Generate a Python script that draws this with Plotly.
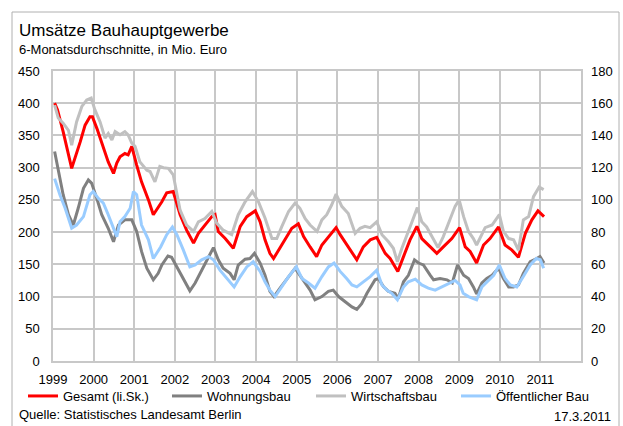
import plotly.graph_objects as go

# Time axis in decimal years, values in Mio. Euro (6-month averages)
gesamt_t = [1999.04, 1999.11, 1999.25, 1999.46, 1999.67, 1999.79, 1999.91, 1999.97,
            2000.08, 2000.24, 2000.36, 2000.49, 2000.57, 2000.65, 2000.77, 2000.85, 2000.94,
            2001.06, 2001.18, 2001.35, 2001.47, 2001.68, 2001.80, 2001.96,
            2002.13, 2002.29, 2002.46, 2002.58, 2002.74, 2002.91, 2002.99,
            2003.07, 2003.24, 2003.44, 2003.61, 2003.77, 2003.98,
            2004.10, 2004.22, 2004.34, 2004.43, 2004.55, 2004.71, 2004.88,
            2005.04, 2005.17, 2005.33, 2005.49, 2005.62, 2005.78, 2005.97,
            2006.07, 2006.27, 2006.48, 2006.64, 2006.81, 2006.97,
            2007.05, 2007.18, 2007.30, 2007.49, 2007.63, 2007.79, 2007.96,
            2008.08, 2008.29, 2008.45, 2008.61, 2008.82,
            2009.01, 2009.15, 2009.27, 2009.43, 2009.60, 2009.76, 2009.97,
            2010.13, 2010.30, 2010.46, 2010.63, 2010.79, 2010.94, 2011.09]
gesamt = [400, 390, 356, 299, 340, 366, 379, 379,
          361, 330, 309, 291, 307, 317, 322, 320, 333,
          304, 278, 250, 227, 247, 261, 263,
          227, 203, 183, 198, 211, 224, 227,
          201, 190, 175, 209, 224, 233,
          216, 188, 167, 159, 172, 188, 206,
          213, 193, 177, 162, 180, 192, 207,
          196, 177, 157, 177, 188, 192,
          183, 167, 159, 139, 162, 188, 209,
          190, 177, 167, 177, 190,
          207, 177, 170, 152, 180, 190, 208,
          180, 172, 161, 198, 219, 233, 224]

wohnungsbau_t = [1999.04, 1999.13, 1999.25, 1999.38, 1999.50, 1999.62, 1999.75, 1999.87, 1999.95,
                 2000.08, 2000.20, 2000.36, 2000.49, 2000.61, 2000.77, 2000.94,
                 2001.06, 2001.18, 2001.31, 2001.47, 2001.59, 2001.68, 2001.83, 2001.92,
                 2002.09, 2002.25, 2002.37, 2002.50, 2002.66, 2002.83, 2002.95,
                 2003.07, 2003.19, 2003.36, 2003.46, 2003.56, 2003.73, 2003.85, 2003.96,
                 2004.10, 2004.22, 2004.34, 2004.44, 2004.59, 2004.76, 2004.96,
                 2005.08, 2005.21, 2005.33, 2005.45, 2005.62, 2005.78, 2005.90,
                 2006.03, 2006.19, 2006.36, 2006.48, 2006.60, 2006.73, 2006.81, 2006.93,
                 2007.01, 2007.14, 2007.26, 2007.42, 2007.50, 2007.63, 2007.75, 2007.90,
                 2008.00, 2008.12, 2008.29, 2008.37, 2008.53, 2008.70, 2008.83, 2008.96,
                 2009.11, 2009.23, 2009.35, 2009.43, 2009.56, 2009.68, 2009.81, 2009.97,
                 2010.09, 2010.22, 2010.34, 2010.46, 2010.58, 2010.75, 2010.91, 2010.99,
                 2011.09]
wohnungsbau = [130, 117.6, 103.2, 90.8, 84.4, 94.8, 107.2, 112.4, 110.4,
               100.8, 90.8, 82.4, 74, 84.4, 87.6, 87.6,
               80.4, 68, 57.6, 50.4, 54.4, 59.6, 65.2, 64.4,
               56.4, 49.2, 43.6, 48.4, 56.4, 64.8, 70.4,
               62.8, 57.6, 54.4, 50.4, 59.6, 63.2, 63.6, 66.8,
               60.8, 53.2, 43.2, 40, 45.2, 51.2, 57.6,
               53.2, 48.4, 44, 38, 40, 43.2, 44,
               40, 36.8, 33.6, 32, 35.6, 42, 45.2, 50.4,
               51.2, 46, 43.2, 42, 38.8, 49.2, 53.2, 62.8,
               60.8, 59.6, 53.2, 50.4, 51.2, 50.4, 48.4, 59.6,
               53.2, 51.2, 46, 41.6, 48.4, 51.2, 53.2, 57.6,
               51.2, 46, 46, 47.2, 54.4, 61.6, 63.6, 64.8,
               60.8]

wirtschaftsbau_t = [1999.04, 1999.13, 1999.25, 1999.38, 1999.46, 1999.58, 1999.71, 1999.83, 1999.94,
                    2000.03, 2000.16, 2000.28, 2000.36, 2000.45, 2000.53, 2000.65, 2000.77, 2000.85, 2000.94,
                    2001.02, 2001.14, 2001.31, 2001.39, 2001.51, 2001.63, 2001.72, 2001.84, 2001.96,
                    2002.13, 2002.29, 2002.46, 2002.58, 2002.74, 2002.91,
                    2003.03, 2003.19, 2003.40, 2003.56, 2003.73, 2003.91,
                    2004.06, 2004.22, 2004.39, 2004.51, 2004.63, 2004.80, 2004.96,
                    2005.08, 2005.21, 2005.33, 2005.50, 2005.62, 2005.74, 2005.86, 2005.97,
                    2006.11, 2006.27, 2006.44, 2006.56, 2006.68, 2006.81, 2006.97,
                    2007.10, 2007.26, 2007.38, 2007.48, 2007.59, 2007.71, 2007.84, 2007.97,
                    2008.08, 2008.20, 2008.33, 2008.48, 2008.61, 2008.78, 2008.90,
                    2009.00, 2009.11, 2009.23, 2009.35, 2009.43, 2009.56, 2009.64, 2009.81, 2009.99,
                    2010.09, 2010.22, 2010.34, 2010.46, 2010.58, 2010.71, 2010.83, 2010.97,
                    2011.08]
wirtschaftsbau = [158.8, 150.8, 147.6, 143.2, 134, 148.4, 158, 162, 163.2,
                  156, 148.4, 138.4, 141.2, 137.2, 142.4, 140.4, 142.4, 140.4, 135.2,
                  133.2, 123.6, 118.4, 117.6, 111.2, 120.8, 120, 119.6, 115.6,
                  93.6, 84.4, 80.4, 86.4, 88.4, 92.8,
                  85.6, 81.2, 78.4, 90.8, 98.8, 105.2,
                  98.8, 88.8, 76, 76, 83.2, 92.8, 98,
                  94.8, 88.4, 84.4, 80.4, 87.6, 90.8, 96.8, 103.6,
                  96, 91.6, 79.2, 82.4, 83.6, 82.8, 86.4,
                  78.4, 74, 70, 61.6, 70, 78.4, 86.4, 95.2,
                  86.4, 83.2, 77.2, 70.4, 77.2, 87.6, 96,
                  100, 89.6, 80.4, 76, 72, 78.4, 82.8, 84.4, 90.8,
                  80.4, 76, 75.2, 68.8, 87.6, 89.6, 102, 108,
                  106.4]

oeffentlich_t = [1999.04, 1999.17, 1999.30, 1999.46, 1999.58, 1999.75, 1999.91, 1999.99,
                 2000.12, 2000.24, 2000.36, 2000.49, 2000.57, 2000.65, 2000.77, 2000.90, 2000.98,
                 2001.06, 2001.18, 2001.35, 2001.47, 2001.65, 2001.80, 2001.94,
                 2002.05, 2002.21, 2002.37, 2002.50, 2002.66, 2002.83, 2002.95,
                 2003.11, 2003.28, 2003.46, 2003.61, 2003.77, 2003.93,
                 2004.10, 2004.22, 2004.34, 2004.47, 2004.63, 2004.80, 2004.99,
                 2005.13, 2005.29, 2005.45, 2005.62, 2005.78, 2005.92,
                 2006.07, 2006.23, 2006.36, 2006.48, 2006.64, 2006.81, 2006.97,
                 2007.10, 2007.22, 2007.34, 2007.48, 2007.63, 2007.75, 2007.92,
                 2008.08, 2008.24, 2008.41, 2008.57, 2008.74, 2008.90,
                 2009.02, 2009.10, 2009.23, 2009.43, 2009.56, 2009.68, 2009.85, 2009.99,
                 2010.13, 2010.26, 2010.42, 2010.58, 2010.75, 2010.90,
                 2011.00, 2011.08]
oeffentlich = [113.2, 103.2, 94.8, 82.4, 84.4, 89.6, 103.2, 105.2,
               100.8, 98, 90.8, 82.4, 77.2, 86.4, 89.6, 94.8, 105.2,
               103.2, 84.4, 75.2, 63.6, 70.8, 78.4, 83.2,
               78.4, 68.8, 58.4, 59.6, 62.8, 64.8, 62.8,
               56.4, 51.2, 46, 52.4, 58.4, 61.6,
               55.6, 49.2, 44, 40, 46, 52.4, 58.4,
               51.2, 48.4, 45.2, 52.4, 58.4, 60.8,
               55.6, 51.2, 47.2, 46, 49.2, 52.4, 56.4,
               47.2, 44, 42, 38, 46, 49.2, 50.8,
               47.2, 45.2, 44, 46, 48.4, 50,
               47.2, 42, 40, 38, 46, 49.2, 53.2, 59.6,
               51.2, 47.2, 46, 52.4, 59.6, 63.6,
               62.8, 57.6]

year_ticks = list(range(1999, 2012))
year_labels = [str(y) for y in year_ticks]

FONT = "Liberation Sans, Arial, sans-serif"
GRID = "#C8C8C8"
W, H = 623, 426

fig = go.Figure()

# Right-axis series (Wohnungsbau, Wirtschaftsbau, Öffentlicher Bau)
fig.add_trace(go.Scatter(x=wohnungsbau_t, y=wohnungsbau, name="Wohnungsbau", yaxis="y2",
                         mode="lines", line=dict(color="#808080", width=3), legend="legend2"))
fig.add_trace(go.Scatter(x=wirtschaftsbau_t, y=wirtschaftsbau, name="Wirtschaftsbau", yaxis="y2",
                         mode="lines", line=dict(color="#C0C0C0", width=3), legend="legend3"))
fig.add_trace(go.Scatter(x=oeffentlich_t, y=oeffentlich, name="Öffentlicher Bau", yaxis="y2",
                         mode="lines", line=dict(color="#99CCFF", width=3), legend="legend4"))
# Left-axis total
fig.add_trace(go.Scatter(x=gesamt_t, y=gesamt, name="Gesamt (li.Sk.)", yaxis="y",
                         mode="lines", line=dict(color="#FF0000", width=3), legend="legend"))


def legend_box(left_px):
    # one legend entry per box, laid out in a single row under the x axis
    return dict(orientation="h", xref="container", yref="container",
                x=left_px / W, y=1 - 381 / H, xanchor="left", yanchor="top",
                itemwidth=30, font=dict(size=13), bgcolor="rgba(0,0,0,0)")


fig.update_layout(
    width=W, height=H,
    margin=dict(l=53, r=42, t=71, b=65, autoexpand=False),
    paper_bgcolor="white", plot_bgcolor="white",
    font=dict(family=FONT, size=13, color="#000000"),
    showlegend=True,
    legend=legend_box(23),
    legend2=legend_box(167),
    legend3=legend_box(311),
    legend4=legend_box(456),
    xaxis=dict(range=[1999, 2012], tickvals=year_ticks, ticktext=year_labels,
               showgrid=True, gridcolor=GRID, gridwidth=1.5,
               showline=True, linecolor=GRID, linewidth=1.5, mirror=True,
               zeroline=False, ticks="", ticklabelstandoff=6),
    yaxis=dict(range=[0, 450], dtick=50, showgrid=True, gridcolor=GRID, gridwidth=1.5,
               showline=True, linecolor=GRID, linewidth=1.5, mirror=True,
               zeroline=False, ticks="", ticklabelstandoff=9),
    yaxis2=dict(range=[0, 180], dtick=20, overlaying="y", side="right",
                showgrid=False, showline=False, zeroline=False, ticks="",
                ticklabelstandoff=9),
)

# Titles and notes
fig.add_annotation(text="Umsätze Bauhauptgewerbe", xref="paper", yref="paper",
                   x=(17 - 53) / 528, y=(361 - 31) / 290, xanchor="left", yanchor="middle",
                   showarrow=False, font=dict(size=17))
fig.add_annotation(text="6-Monatsdurchschnitte, in Mio. Euro", xref="paper", yref="paper",
                   x=(17 - 53) / 528, y=(361 - 49) / 290, xanchor="left", yanchor="middle",
                   showarrow=False, font=dict(size=13))
fig.add_annotation(text="Quelle: Statistisches Landesamt Berlin", xref="paper", yref="paper",
                   x=(17 - 53) / 528, y=(361 - 414) / 290, xanchor="left", yanchor="middle",
                   showarrow=False, font=dict(size=13))
fig.add_annotation(text="17.3.2011", xref="paper", yref="paper",
                   x=(613 - 53) / 528, y=(361 - 416) / 290, xanchor="right", yanchor="middle",
                   showarrow=False, font=dict(size=13))

# Chart frame
fig.add_shape(type="rect", xref="paper", yref="paper",
              x0=(12 - 53) / 528, x1=(619 - 53) / 528,
              y0=(361 - 440) / 290, y1=(361 - 12) / 290,
              line=dict(color="#B0B0B0", width=1), layer="below")

fig.write_html("out.html")
